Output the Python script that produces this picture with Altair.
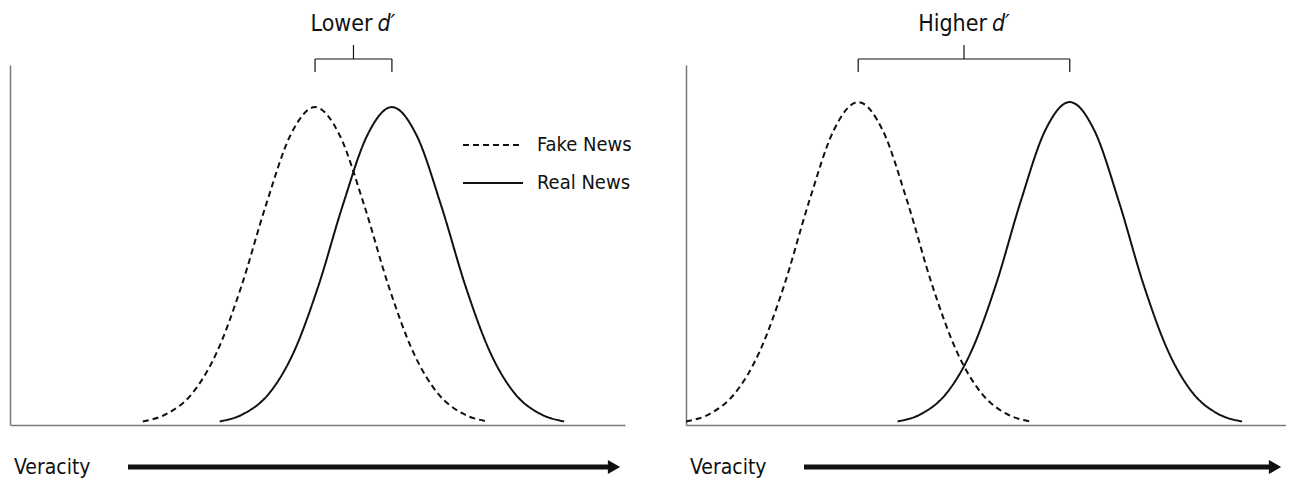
import altair as alt
import pandas as pd

# ---------------- data ----------------
series = ["Fake News", "Real News"]

# left panel (lower d')
left_fake_x = [21.6, 25.6, 29.6, 33.6, 37.6, 41.6, 45.6, 49.6, 53.6, 57.6, 61.6, 65.6, 69.6, 73.6, 77.6]
left_real_x = [34.1, 38.1, 42.1, 46.1, 50.1, 54.1, 58.1, 62.1, 66.1, 70.1, 74.1, 78.1, 82.1, 86.1, 90.1]
left_y = [0.010, 0.032, 0.087, 0.201, 0.384, 0.610, 0.805, 0.883, 0.805, 0.610, 0.384, 0.201, 0.087, 0.032, 0.010]
left_means = [49.6, 62.1]

# right panel (higher d')
right_fake_x = [0.0, 4.0, 8.0, 12.0, 16.0, 20.0, 24.0, 28.0, 32.0, 36.0, 40.0, 44.0, 48.0, 52.0, 56.0]
right_real_x = [34.4, 38.4, 42.4, 46.4, 50.4, 54.4, 58.4, 62.4, 66.4, 70.4, 74.4, 78.4, 82.4, 86.4, 90.4]
right_y = [0.010, 0.032, 0.089, 0.205, 0.390, 0.620, 0.818, 0.897, 0.818, 0.620, 0.390, 0.205, 0.089, 0.032, 0.010]
right_means = [28.0, 62.4]

title_words = ["Lower", "Higher"]
dprime = "d\u2032"
axis_label = "Veracity"

# ---------------- styling ----------------
FONT = "Liberation Sans Narrow, DejaVu Sans Condensed, Liberation Sans, sans-serif"
INK = "#111111"
AXIS = "#7a7a7a"
DASHES = [[6, 4], [1, 0]]


def curves_df(fx, rx, ys):
    return pd.concat([
        pd.DataFrame({"x": fx, "y": ys, "series": series[0]}),
        pd.DataFrame({"x": rx, "y": ys, "series": series[1]}),
    ], ignore_index=True)


def panel(df, means, word, xmax, width, title_dx, show_legend):
    xs = alt.Scale(domain=[0, xmax], nice=False, zero=False)
    ys = alt.Scale(domain=[0, 1], nice=False, zero=True)

    lines = alt.Chart(df).mark_line(interpolate="monotone", color=INK, strokeWidth=2).encode(
        x=alt.X("x:Q", scale=xs, title=None),
        y=alt.Y("y:Q", scale=ys, title=None),
        strokeDash=alt.StrokeDash("series:N", scale=alt.Scale(domain=series, range=DASHES), legend=None),
        detail="series:N",
    )

    brace_df = pd.DataFrame({"a": [means[0]], "b": [means[1]], "m": [(means[0] + means[1]) / 2]})
    legs_df = pd.DataFrame({"x": means})
    hbar = alt.Chart(brace_df).mark_rule(color=INK, strokeWidth=1.2).encode(
        x=alt.X("a:Q", scale=xs, title=None), x2="b:Q", y=alt.value(-6))
    legs = alt.Chart(legs_df).mark_rule(color=INK, strokeWidth=1.2).encode(
        x=alt.X("x:Q", scale=xs, title=None), y=alt.value(-6), y2=alt.value(7))
    tick = alt.Chart(brace_df).mark_rule(color=INK, strokeWidth=1.2).encode(
        x=alt.X("m:Q", scale=xs, title=None), y=alt.value(-20), y2=alt.value(-6))

    tdf = pd.DataFrame({"m": [(means[0] + means[1]) / 2], "w": [word], "d": [dprime]})
    t1 = alt.Chart(tdf).mark_text(font=FONT, fontSize=23, color=INK, align="right",
                                  baseline="alphabetic", dx=title_dx).encode(
        x=alt.X("m:Q", scale=xs, title=None), y=alt.value(-34), text="w:N")
    t2 = alt.Chart(tdf).mark_text(font=FONT, fontSize=23, color=INK, align="left", fontStyle="italic",
                                  baseline="alphabetic", dx=title_dx + 5).encode(
        x=alt.X("m:Q", scale=xs, title=None), y=alt.value(-34), text="d:N")

    ldf = pd.DataFrame({"label": [axis_label]})
    vtext = alt.Chart(ldf).mark_text(font=FONT, fontSize=21, color=INK, align="left",
                                     baseline="alphabetic").encode(
        x=alt.value(4), y=alt.value(409), text="label:N")
    shaft = alt.Chart(ldf).mark_rule(color=INK, strokeWidth=5).encode(
        x=alt.value(118), x2=alt.value(width - 17), y=alt.value(402))
    head = alt.Chart(ldf).mark_point(shape="triangle-right", filled=True, color=INK, opacity=1,
                                     size=200, strokeWidth=0).encode(
        x=alt.value(width - 11), y=alt.value(402))

    layers = [lines, hbar, legs, tick, t1, t2, vtext, shaft, head]

    if show_legend:
        for i, s in enumerate(series):
            sdf = pd.DataFrame({"series": [s]})
            yy = 80 + 38 * i
            samp = alt.Chart(sdf).mark_rule(color=INK, strokeWidth=2, strokeDash=DASHES[i]).encode(
                x=alt.value(453), x2=alt.value(513), y=alt.value(yy))
            lab = alt.Chart(sdf).mark_text(font=FONT, fontSize=20, color=INK, align="left",
                                           baseline="middle").encode(
                x=alt.value(527), y=alt.value(yy), text="series:N")
            layers += [samp, lab]

    return alt.layer(*layers).properties(width=width, height=360)


left = panel(curves_df(left_fake_x, left_real_x, left_y), left_means, title_words[0],
             100.0, 615, 19, True)
right = panel(curves_df(right_fake_x, right_real_x, right_y), right_means, title_words[1],
              600 / 6.15, 600, 23, False)

chart = alt.hconcat(left, right, spacing=61, bounds="flush").configure_view(
    stroke=None
).configure_axis(
    labels=False, ticks=False, grid=False, domainColor=AXIS, domainWidth=1.5,
    minExtent=0, maxExtent=0, labelPadding=0, titlePadding=0
).properties(
    padding={"left": 2, "top": 5, "right": 0, "bottom": 0}
)

chart.save("out.html", embed_options={"renderer": "svg", "actions": False})
